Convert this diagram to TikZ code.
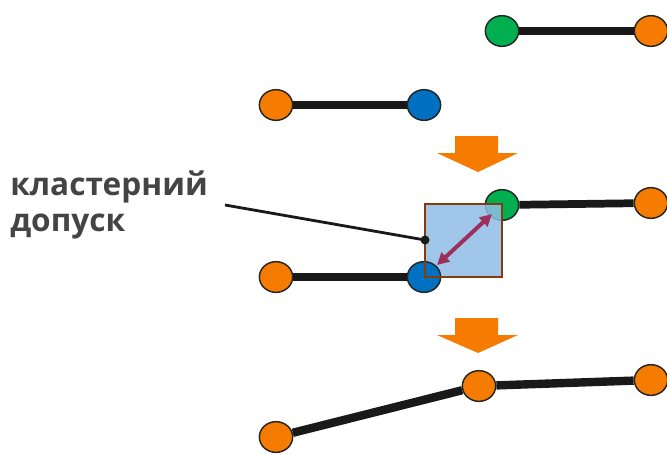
\documentclass[tikz,border=0pt]{standalone}
\usepackage{fontspec}
\setmainfont{Open Sans}
\usepackage{tikz}
\usetikzlibrary{shapes.geometric, arrows.meta}

\definecolor{vorange}{HTML}{F57C00}
\definecolor{vgreen}{HTML}{00B050}
\definecolor{vblue}{HTML}{0070C0}
\definecolor{tolfill}{HTML}{8FBDE6}
\definecolor{tolbrd}{HTML}{843C0C}
\definecolor{tolarr}{HTML}{9E2F5C}
\definecolor{labtxt}{HTML}{444444}

\begin{document}
\begin{tikzpicture}[x=0.75pt, y=-0.75pt,
        vx/.style={ellipse, draw=black!85, line width=1.1pt, minimum width=25pt,
            minimum height=23pt, inner sep=0pt},
        seg/.style={line width=5.8pt, black!90},
        flow/.style={fill=vorange},
        lab/.style={font=\fontsize{23.7}{27}\selectfont\bfseries, text=labtxt,
            align=left, inner sep=0pt}
    ]
    \useasboundingbox (0,0) rectangle (667,454);
    % top: new segment
    \node[vx, fill=vgreen]  (ta) at (502,31) {};
    \node[vx, fill=vorange] (tb) at (651,31) {};
    \draw[seg] (ta) -- (tb);
    % existing segment
    \node[vx, fill=vorange] (ea) at (276,105) {};
    \node[vx, fill=vblue]   (eb) at (424,105) {};
    \draw[seg] (ea) -- (eb);
    % first step arrow
    \fill[flow] (455,136) -- (498,136) -- (498,153) -- (518,153) -- (478,172)
        -- (437,153) -- (455,153) -- cycle;
    % middle: both segments with tolerance box
    \node[vx, fill=vorange] (ma) at (276,277) {};
    \node[vx, fill=vgreen]  (mc) at (502,205) {};
    \node[vx, fill=vorange] (md) at (651,203) {};
    \draw[seg] (mc) -- (md);
    \fill[tolfill, fill opacity=0.85] (425,204) rectangle (502,277);
    \node[vx, fill=vblue]   (mb) at (424,277) {};
    \draw[seg] (ma) -- (mb);
    \draw[tolbrd, line width=1pt] (425,204) rectangle (502,277);
    \coordinate (ta1) at (437,265);
    \coordinate (ta2) at (492,214);
    \draw[tolarr, line width=3pt, {Triangle[length=9pt, width=9pt]}-{Triangle[length=9pt, width=9pt]}]
        (ta1) -- (ta2);
    % label and leader
    \node[lab, anchor=north west] (lbl) at (10,171) {кластерний\\допуск};
    \coordinate (lstart) at (225,205);
    \coordinate (ldot) at (425,240);
    \draw[black!90, line width=2.1pt] (lstart) -- (ldot);
    \fill[black!90] (ldot) circle (4.5);
    % second step arrow
    \fill[flow] (455,318) -- (498,318) -- (498,335) -- (518,335) -- (478,353)
        -- (437,335) -- (455,335) -- cycle;
    % bottom: merged line
    \node[vx, fill=vorange] (ba) at (276,437) {};
    \node[vx, fill=vorange] (bb) at (479,386) {};
    \node[vx, fill=vorange] (bc) at (651,380) {};
    \draw[seg, line width=6.3pt] (ba) -- (bb) -- (bc);
\end{tikzpicture}
\end{document}
